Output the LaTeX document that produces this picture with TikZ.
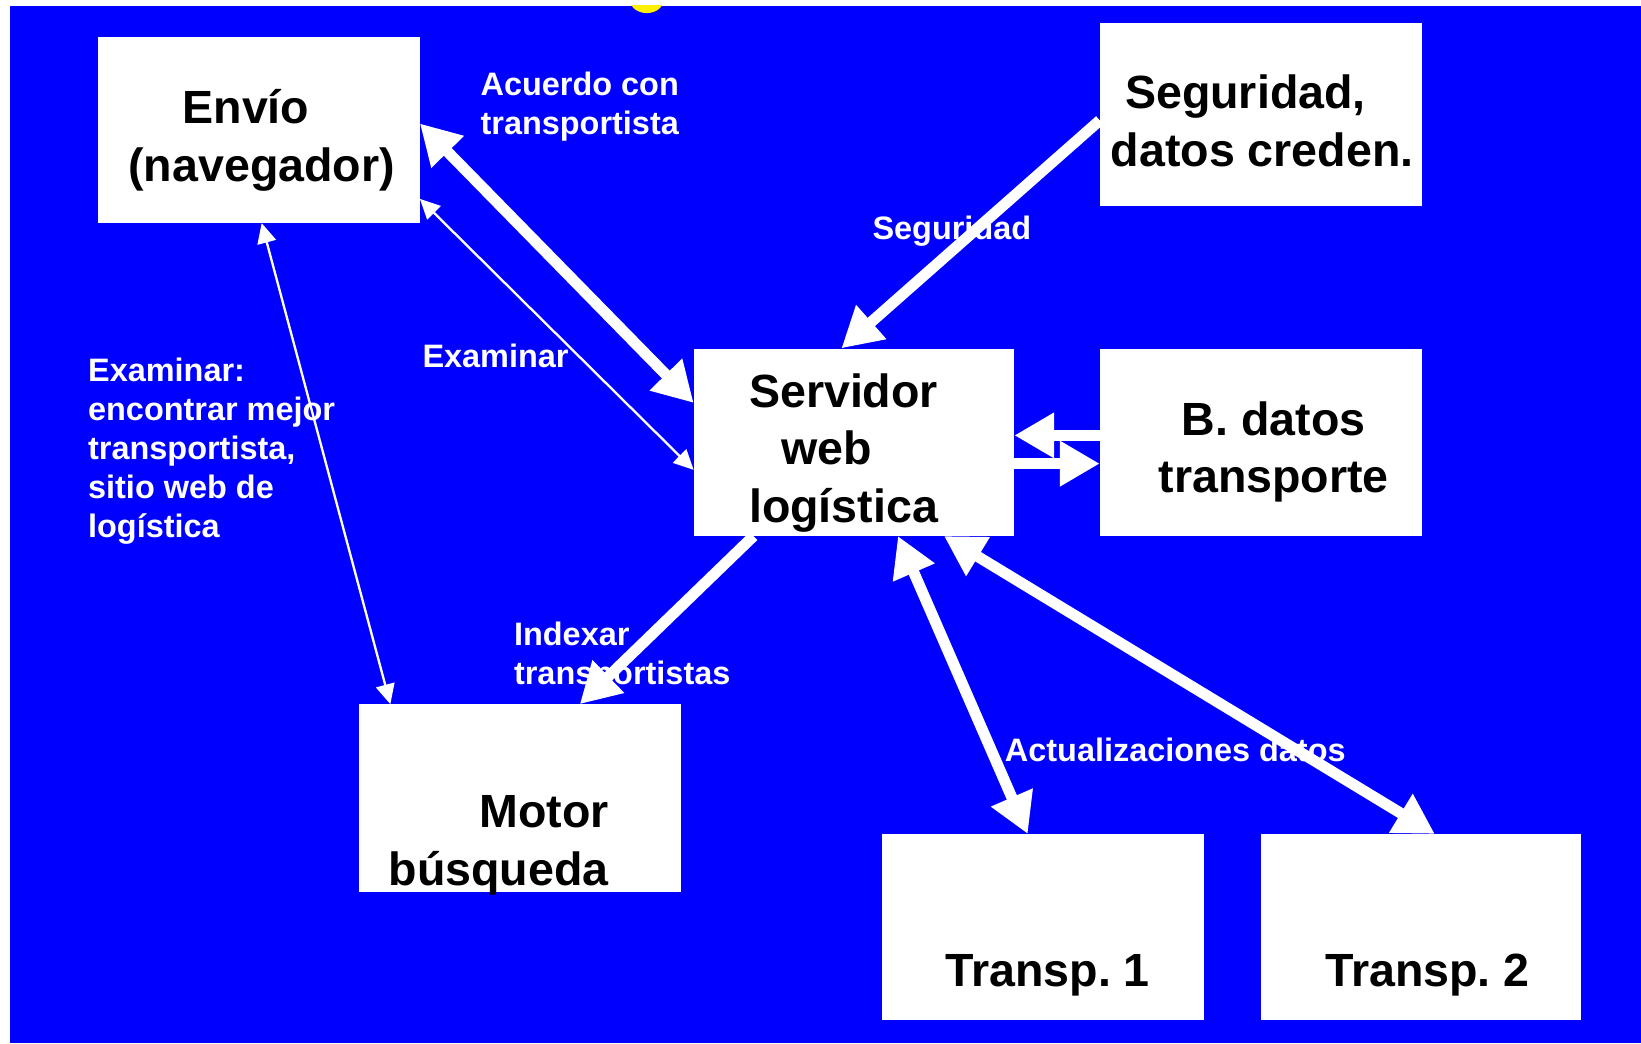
\documentclass[tikz,border=0pt]{standalone}
\usepackage{fontspec}
\setmainfont{Liberation Sans}
\usetikzlibrary{arrows.meta}
\definecolor{bgblue}{RGB}{0,0,255}
\definecolor{sunyellow}{RGB}{255,240,0}
\frenchspacing
\tikzset{
  box/.style={fill=white, draw=none, inner sep=0pt},
  boxtxt/.style={font=\fontsize{44.5}{55}\selectfont\bfseries\frenchspacing, text=black, inner sep=0pt, align=center},
  lbl/.style={font=\fontsize{31}{37.25}\selectfont\bfseries\frenchspacing, text=white, inner sep=0pt, align=left},
  thickarr/.style={draw=white, line width=10.5pt, -{Triangle[length=38pt,width=41pt]}},
  thickdbl/.style={draw=white, line width=10.5pt, {Triangle[length=38pt,width=41pt]}-{Triangle[length=38pt,width=41pt]}},
  thindbl/.style={draw=white, line width=2.2pt, {Triangle[length=19pt,width=18pt]}-{Triangle[length=19pt,width=18pt]}}
}
\begin{document}
\begin{tikzpicture}[x=1pt,y=-1pt]
\useasboundingbox (0,0) rectangle (1568,997);
\fill[white] (0,0) rectangle (1568,997);
\fill[bgblue] (9.5,5.5) rectangle (1568,997);
\begin{scope}
\clip (9.5,5.5) rectangle (1568,997);
\fill[sunyellow] (618,0) ellipse [x radius=16, y radius=12.5];
\end{scope}

% boxes
\node[box, minimum width=307pt, minimum height=178pt] (envio) at (247.5,124) {};
\node[box, minimum width=308pt, minimum height=175pt] (seg) at (1205,109.5) {};
\node[box, minimum width=306pt, minimum height=179pt] (serv) at (816,422.5) {};
\node[box, minimum width=308pt, minimum height=179pt] (bd) at (1205,422.5) {};
\node[box, minimum width=308pt, minimum height=179pt] (motor) at (497,762.5) {};
\node[box, minimum width=307pt, minimum height=178pt] (t1) at (996.5,886) {};
\node[box, minimum width=306pt, minimum height=178pt] (t2) at (1358,886) {};

% box texts
\node[boxtxt] (envio-t) at (250,134.5) {\strut\hspace*{-30pt}Envío\\\strut(navegador)};
\node[boxtxt] (seg-t) at (1206,120.5) {\strut\hspace*{-32pt}Seguridad,\\\strut datos creden.};
\node[boxtxt] (serv-t) at (806,433) {\strut Servidor\\\strut\hspace*{-32pt}web\\\strut logística};
\node[boxtxt] (bd-t) at (1217,432.5) {\strut B. datos\\\strut transporte};
\node[boxtxt, align=right] (motor-t) at (476.5,807.5) {\strut Motor\\\strut búsqueda};
\node[boxtxt] (t1-t) at (1001,932) {\strut Transp. 1};
\node[boxtxt] (t2-t) at (1364,932) {\strut Transp. 2};

% labels
\node[lbl, anchor=west] (l-acuerdo) at (459,102.4) {\strut Acuerdo con\\\strut transportista};
\node[lbl] (l-seg) at (909.5,221.7) {\strut Seguridad};
\node[lbl] (l-exam) at (473.5,343.7) {\strut Examinar};
\node[lbl, anchor=west] (l-exam2) at (84,431.2) {\strut Examinar:\\\strut encontrar mejor\\\strut transportista,\\\strut sitio web de\\\strut logística};
\node[lbl, anchor=west] (l-index) at (491,628.4) {\strut Indexar\\\strut transportistas};
\node[lbl, anchor=west] (l-act) at (960,719.7) {\strut Actualizaciones datos};

% connectors
\draw[thickdbl] ([yshift=6pt]envio.east) -- ([yshift=37.5pt]serv.west);
\draw[thindbl] ([yshift=-66pt]envio.east) -- ([yshift=-26.5pt]serv.west);
\draw[thindbl] ([xshift=2.5pt]envio.south) -- ([xshift=-124pt]motor.north);
\draw[thickarr] ([yshift=-5.5pt]seg.west) -- ([xshift=-12pt]serv.north);
\draw[thickarr] ([xshift=-96pt]serv.south) -- ([xshift=57pt]motor.north);
\draw[thickarr] ([yshift=6.5pt]bd.west) -- ([yshift=6.5pt]serv.east);
\draw[thickarr] ([yshift=-20.5pt]serv.east) -- ([yshift=-20.5pt]bd.west);
\draw[thickdbl] ([xshift=42pt]serv.south) -- ([xshift=-14.5pt]t1.north);
\draw[thickdbl] ([xshift=86pt]serv.south) -- ([xshift=13pt]t2.north);
\end{tikzpicture}
\end{document}
